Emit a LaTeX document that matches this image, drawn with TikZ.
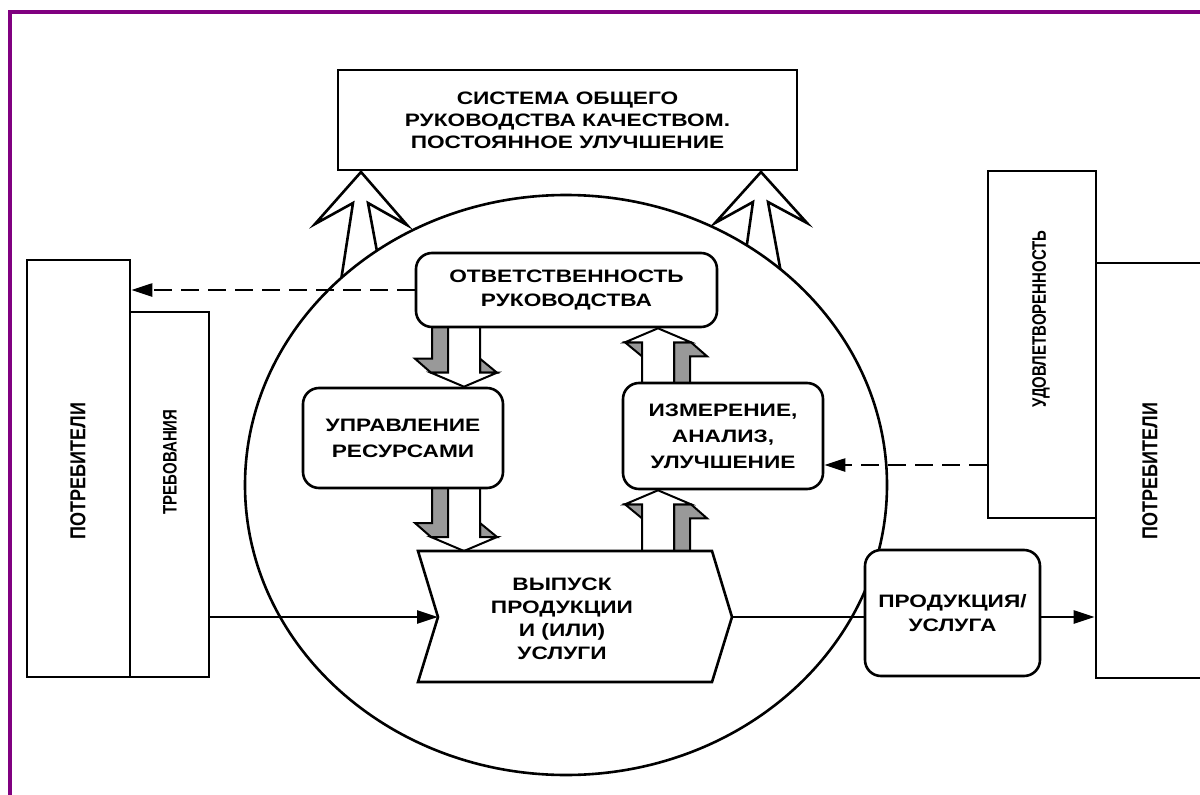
\documentclass[tikz,border=0pt]{standalone}
\usepackage{fontspec}
\usetikzlibrary{arrows.meta,calc}
\newfontfamily\diafont[FakeStretch=1.26]{Liberation Sans}
\newfontfamily\rotfont{Liberation Sans}
\definecolor{framepurple}{HTML}{800080}
\definecolor{sidegray}{HTML}{999999}

\pgfdeclarelayer{arrowsback}
\pgfdeclarelayer{disc}
\pgfdeclarelayer{flows}
\pgfsetlayers{arrowsback,disc,flows,main}

\tikzset{
  frame/.style={draw=black, line width=2.6pt, fill=white, line join=miter},
  rbox/.style={frame, rounded corners=16pt},
  txt/.style={font=\diafont\bfseries\fontsize{18}{24}\selectfont, align=center},
  vtxt/.style={rotate=90, font=\rotfont\bfseries\fontsize{15}{18}\selectfont},
  bigvtxt/.style={vtxt, font=\rotfont\bfseries\fontsize{18}{20}\selectfont},
  conn/.style={line width=2.4pt},
  arrowtip/.style={-{Triangle[length=21pt,width=13pt]}},
  dashline/.style={conn, dash pattern=on 18pt off 9pt},
  hollow/.style={draw=black, fill=white, line width=2.6pt, line join=miter},
  % extruded block arrow pointing down, tip at the origin, shaft of length #1
  pics/blockarrow/.style={code={
    \filldraw[fill=sidegray, line width=2pt, line join=miter]
      (-32,-#1) -- (-32,-28) -- (-49,-28) -- (-33,-14) -- (-16,-14) -- (-16,-#1) -- cycle;
    \filldraw[fill=sidegray, line width=2pt, line join=miter]
      (16,-28) -- (33,-14) -- (16,-14) -- cycle;
    \filldraw[fill=white, line width=2pt, line join=miter]
      (0,0) -- (33,-14) -- (16,-14) -- (16,-#1) -- (-16,-#1) -- (-16,-14) -- (-33,-14) -- cycle;
  }}
}

\begin{document}
\begin{tikzpicture}[x=1pt,y=-1pt, every node/.style={inner sep=0pt}]
\useasboundingbox (0,0) rectangle (1200,795);
\clip (0,0) rectangle (1200,795);

% customers on the right, satisfaction in front of them
\node[frame, minimum width=119pt, minimum height=415pt] (custR) at (1155.5,470.5) {};
\node[bigvtxt] (custRtext) at (1150,471) {\scalebox{1}[1.2]{ПОТРЕБИТЕЛИ}};
\node[frame, minimum width=108pt, minimum height=347pt] (sat) at (1042,344.5) {};
\node[vtxt] (sattext) at (1041,319) {\scalebox{1}[1.3]{УДОВЛЕТВОРЕННОСТЬ}};

% customers on the left with their requirements
\node[frame, minimum width=103pt, minimum height=417pt] (custL) at (78.5,468.5) {};
\node[bigvtxt] (custLtext) at (78,471) {\scalebox{1}[1.2]{ПОТРЕБИТЕЛИ}};
\node[frame, minimum width=79pt, minimum height=365pt] (req) at (169.5,494.5) {};
\node[vtxt] (reqtext) at (170,462) {\scalebox{1}[1.3]{ТРЕБОВАНИЯ}};

% top box
\node[frame, txt, minimum width=459pt, minimum height=100pt,
      font=\diafont\bfseries\fontsize{18}{22}\selectfont] (qms) at (567.5,120)
  {СИСТЕМА ОБЩЕГО\\РУКОВОДСТВА КАЧЕСТВОМ.\\ПОСТОЯННОЕ УЛУЧШЕНИЕ};

% processes inside the cycle
\node[rbox, txt, minimum width=301pt, minimum height=74pt] (resp) at (566.5,290)
  {ОТВЕТСТВЕННОСТЬ\\РУКОВОДСТВА};
\node[rbox, txt, minimum width=200pt, minimum height=100pt,
      font=\diafont\bfseries\fontsize{18}{26}\selectfont] (res) at (403,438)
  {УПРАВЛЕНИЕ\\РЕСУРСАМИ};
\node[rbox, txt, minimum width=200pt, minimum height=106pt,
      font=\diafont\bfseries\fontsize{18}{26}\selectfont] (meas) at (723,436)
  {ИЗМЕРЕНИЕ,\\АНАЛИЗ,\\УЛУЧШЕНИЕ};

% product realization (chevron)
\coordinate (outNW) at (418,551);
\coordinate (outNE) at (712,551);
\coordinate (outTip) at (732,617);
\coordinate (outSE) at (712,682);
\coordinate (outSW) at (418,682);
\coordinate (outNotch) at (438,617);
\filldraw[frame] (outNW) -- (outNE) -- (outTip) -- (outSE) -- (outSW) -- (outNotch) -- cycle;
\node[txt, font=\diafont\bfseries\fontsize{18}{23}\selectfont] (out) at (562,619)
  {ВЫПУСК\\ПРОДУКЦИИ\\И (ИЛИ)\\УСЛУГИ};

% product / service
\node[rbox, txt, minimum width=175pt, minimum height=126pt] (prod) at (952.5,613)
  {ПРОДУКЦИЯ/\\УСЛУГА};

% block arrows between the processes
\coordinate (colD) at (464,0);
\coordinate (colU) at (658,0);
\begin{pgfonlayer}{flows}
  \pic at (colD |- res.north) {blockarrow=72};
  \pic at (colD |- outNW) {blockarrow=74};
  \pic[rotate=180] at (colU |- resp.south) {blockarrow=68};
  \pic[rotate=180] at (colU |- meas.south) {blockarrow=74};
\end{pgfonlayer}

% the cycle
\begin{pgfonlayer}{disc}
  \draw[frame] (566,485) ellipse [x radius=321pt, y radius=290pt];
\end{pgfonlayer}

% hollow arrows rising to the top box
\begin{pgfonlayer}{arrowsback}
  \path[hollow] (338,300) -- (353,203) -- (315,224) -- (361,172) -- (407,225)
    -- (368,203) -- (386,300) -- cycle;
  \path[hollow] (739,300) -- (753,202) -- (715,223) -- (761,172) -- (807,223)
    -- (768,202) -- (786,300) -- cycle;
\end{pgfonlayer}

% flows
\draw[conn, arrowtip] (req.east |- outNotch) -- (outNotch);
\draw[conn] (outTip) -- (prod.west |- outTip);
\draw[conn, arrowtip] (prod.east |- outTip) -- (custR.west |- outTip);
\draw[dashline, arrowtip] (resp.west) -- (custL.east |- resp.west);
\coordinate (measIn) at ([yshift=-29pt]meas.east);
\draw[dashline, arrowtip] (sat.west |- measIn) -- (measIn);

% page frame
\draw[framepurple, line width=4pt] (10,810) -- (10,12) -- (1210,12);
\end{tikzpicture}
\end{document}
